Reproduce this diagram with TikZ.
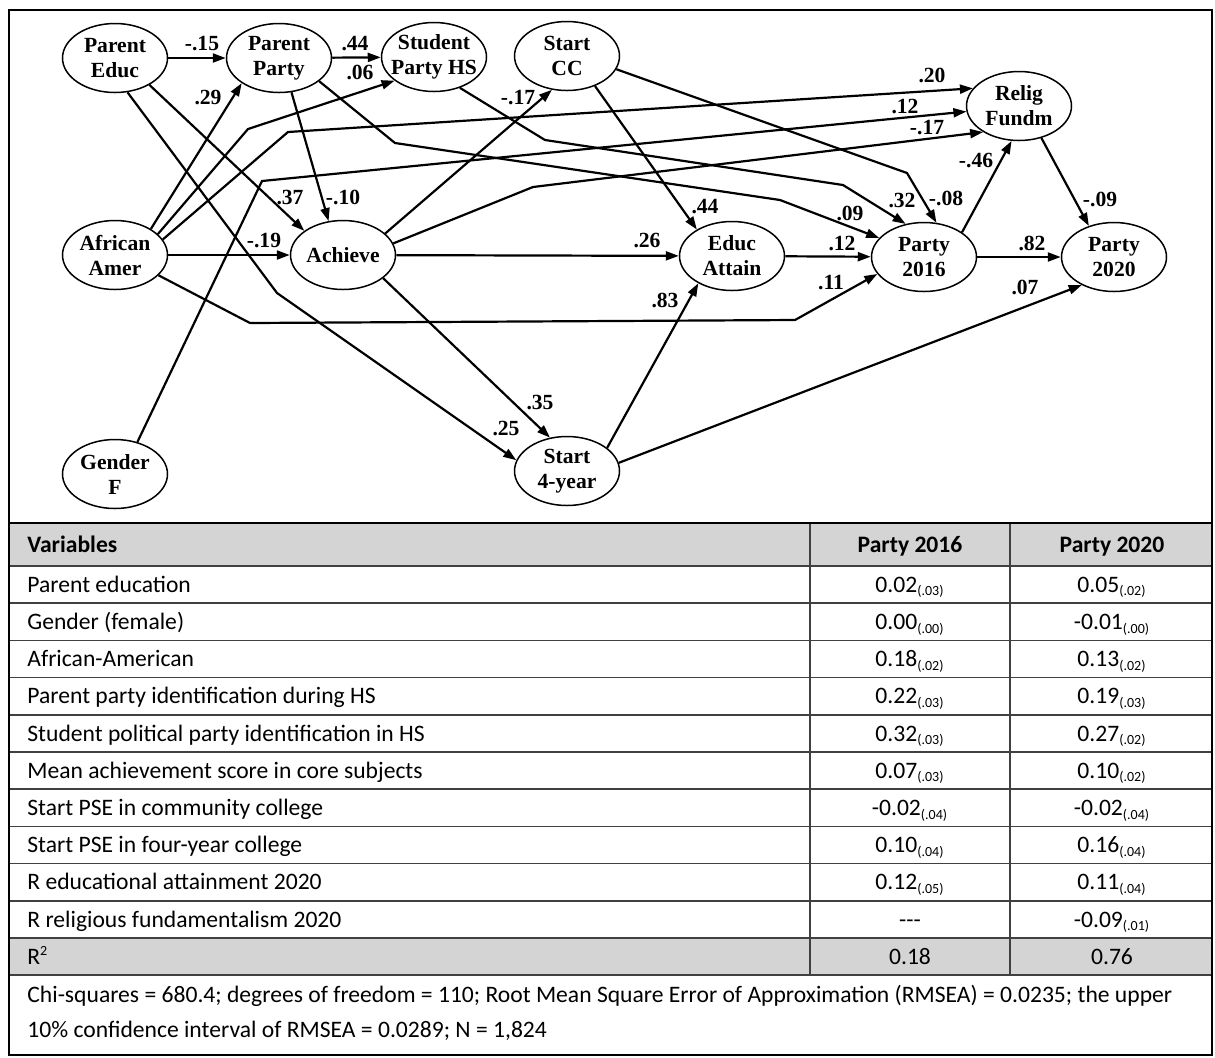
\documentclass[tikz,border=0pt]{standalone}
\usepackage{fontspec}
\setmainfont{Liberation Serif}
\newfontfamily\tabfont{Carlito}
\usetikzlibrary{arrows.meta,shapes.geometric}
\newcommand{\se}[1]{\textsubscript{\fontsize{7}{8}\selectfont(#1)}}

\tikzset{
    var/.style={draw,ellipse,line width=0.75pt,inner sep=0pt,minimum width=52.5pt,minimum height=34.5pt,align=center,font=\fontsize{10.8}{12.5}\selectfont\bfseries},
    effect/.style={line width=1.1pt,-{Triangle[length=6.5pt,width=4.5pt]}},
    coef/.style={inner sep=0pt,font=\fontsize{10.8}{12.5}\selectfont\bfseries},
    cell/.style={inner sep=0pt,font=\tabfont\fontsize{11.8}{14}\selectfont},
    tabline/.style={draw=black!75,line width=0.8pt},
}

\begin{document}
\begin{tikzpicture}[x=0.5pt,y=-0.5pt]
    \useasboundingbox (0,0) rectangle (1215,1057);
    \fill[black!17] (9,523) rectangle (1212,566);
    \fill[black!17] (9,938) rectangle (1212,975.2);
    \foreach \i in {0,...,11}
        \draw[tabline] (9,566+37.2*\i) -- (1212,566+37.2*\i);
    \draw[tabline] (810,523) -- (810,975.2);
    \draw[tabline] (1010,523) -- (1010,975.2);
    \draw[line width=0.9pt] (9,523) -- (1212,523);
    \draw[line width=0.9pt] (9,10) rectangle (1212,1055);

    \node[var] (ParEd) at (115,58) {Parent\\Educ};
    \node[var] (ParPa) at (279,58) {Parent\\Party};
    \node[var,inner xsep=-3.5pt] (StuHS) at (434,57) {Student\\Party HS};
    \node[var] (StaCC) at (567,56) {Start\\CC};
    \node[var] (Relig) at (1019,106) {Relig\\Fundm};
    \node[var] (AfrAm) at (115,255) {African\\Amer};
    \node[var] (Achv) at (343,255) {Achieve};
    \node[var] (EdAtt) at (732,256) {Educ\\Attain};
    \node[var] (Pty16) at (924,257) {Party\\2016};
    \node[var] (Pty20) at (1114,257) {Party\\2020};
    \node[var] (GenF) at (115,474) {Gender\\F};
    \node[var] (St4yr) at (567,471) {Start\\4-year};

    \draw[effect] (ParEd) -- (ParPa);
    \draw[effect] (ParPa) -- (StuHS);
    \draw[effect] (AfrAm.36) -- (ParPa.214);
    \draw[effect] (AfrAm.26) -- (248,129) -- (StuHS.211);
    \draw[effect] (AfrAm.18) -- (288,132) -- (Relig.159);
    \draw[effect] (AfrAm) -- (Achv);
    \draw[effect] (AfrAm.335) -- (250,323) -- (795,320) -- (Pty16.200);
    \draw[effect] (GenF.55) -- (262,181) -- (Relig.186);
    \draw[effect] (ParEd.322) -- (Achv.148);
    \draw[effect] (ParEd.290) -- (277,293) -- (St4yr.168);
    \draw[effect] (ParPa.290) -- (Achv.113);
    \draw[effect] (ParPa.330) -- (395,143) -- (780,200) -- (Pty16.157);
    \draw[effect] (StuHS.310) -- (545,140) -- (843,185) -- (Pty16.119);
    \draw[effect] (StaCC.313) -- (EdAtt.143);
    \draw[effect] (StaCC.345) -- (907,173) -- (Pty16.70);
    \draw[effect] (Achv.27) -- (StaCC.246);
    \draw[effect] (Achv.13) -- (533,187) -- (Relig.216);
    \draw[effect] (Achv) -- (EdAtt);
    \draw[effect] (Achv.330) -- (St4yr.117);
    \draw[effect] (St4yr.30) -- (EdAtt.219);
    \draw[effect] (St4yr.9) -- (Pty20.221);
    \draw[effect] (EdAtt) -- (Pty16);
    \draw[effect] (Pty16) -- (Pty20);
    \draw[effect] (Pty16.33) -- (Relig.258);
    \draw[effect] (Relig.305) -- (Pty20.129);

    \node[coef] (bEdPa) at (202,44) {-.15};
    \node[coef] (bPaHS) at (355,44) {.44};
    \node[coef] (bAfHS) at (360,72) {.06};
    \node[coef] (bAfPa) at (208,97) {.29};
    \node[coef] (bEdAc) at (290,197) {.37};
    \node[coef] (bPaAc) at (343,197) {-.10};
    \node[coef] (bAfAc) at (264,240) {-.19};
    \node[coef] (bAcCC) at (518,98) {-.17};
    \node[coef] (bCCEA) at (705,207) {.44};
    \node[coef] (bAcEA) at (647,240) {.26};
    \node[coef] (bAfRe) at (932,75) {.20};
    \node[coef] (bGeRe) at (905,106) {.12};
    \node[coef] (bAcRe) at (927,128) {-.17};
    \node[coef] (bP6Re) at (976,160) {-.46};
    \node[coef] (bHSP6) at (902,200) {.32};
    \node[coef] (bCCP6) at (946,198) {-.08};
    \node[coef] (bPaP6) at (850,213) {.09};
    \node[coef] (bEAP6) at (842,243) {.12};
    \node[coef] (bP6P0) at (1032,243) {.82};
    \node[coef] (bReP0) at (1100,199) {-.09};
    \node[coef] (bAfP6) at (831,283) {.11};
    \node[coef] (bS4P0) at (1025,287) {.07};
    \node[coef] (bS4EA) at (665,300) {.83};
    \node[coef] (bAcS4) at (540,402) {.35};
    \node[coef] (bEdS4) at (506,428) {.25};

    \node[cell,font=\tabfont\fontsize{11.8}{14}\selectfont\bfseries,anchor=base west] (hvar) at (27,552) {Variables};
    \node[cell,font=\tabfont\fontsize{11.8}{14}\selectfont\bfseries,anchor=base] (h16) at (910,552) {Party 2016};
    \node[cell,font=\tabfont\fontsize{11.8}{14}\selectfont\bfseries,anchor=base] (h20) at (1112,552) {Party 2020};
    \foreach \lab/\a/\b [count=\i] in {
        Parent education/0.02\se{.03}/0.05\se{.02},
        Gender (female)/0.00\se{.00}/-0.01\se{.00},
        African-American/0.18\se{.02}/0.13\se{.02},
        Parent party identification during HS/0.22\se{.03}/0.19\se{.03},
        Student political party identification in HS/0.32\se{.03}/0.27\se{.02},
        Mean achievement score in core subjects/0.07\se{.03}/0.10\se{.02},
        Start PSE in community college/-0.02\se{.04}/-0.02\se{.04},
        Start PSE in four-year college/0.10\se{.04}/0.16\se{.04},
        R educational attainment 2020/0.12\se{.05}/0.11\se{.04},
        R religious fundamentalism 2020/---/-0.09\se{.01}}
    {
        \node[cell,anchor=base west] (var\i) at (27,555+37.2*\i) {\lab};
        \node[cell,anchor=base] (p16\i) at (910,555+37.2*\i) {\a};
        \node[cell,anchor=base] (p20\i) at (1112,555+37.2*\i) {\b};
    }
    \node[cell,anchor=base west] (rsq) at (27,964) {R\textsuperscript{\fontsize{7}{8}\selectfont 2}};
    \node[cell,anchor=base] (rsq16) at (910,964) {0.18};
    \node[cell,anchor=base] (rsq20) at (1112,964) {0.76};
    \node[cell,anchor=base west] (note1) at (27,1002) {Chi-squares = 680.4; degrees of freedom = 110; Root Mean Square Error of Approximation (RMSEA) = 0.0235; the upper};
    \node[cell,anchor=base west] (note2) at (27,1037) {10\% confidence interval of RMSEA = 0.0289; N = 1,824};
\end{tikzpicture}
\end{document}
